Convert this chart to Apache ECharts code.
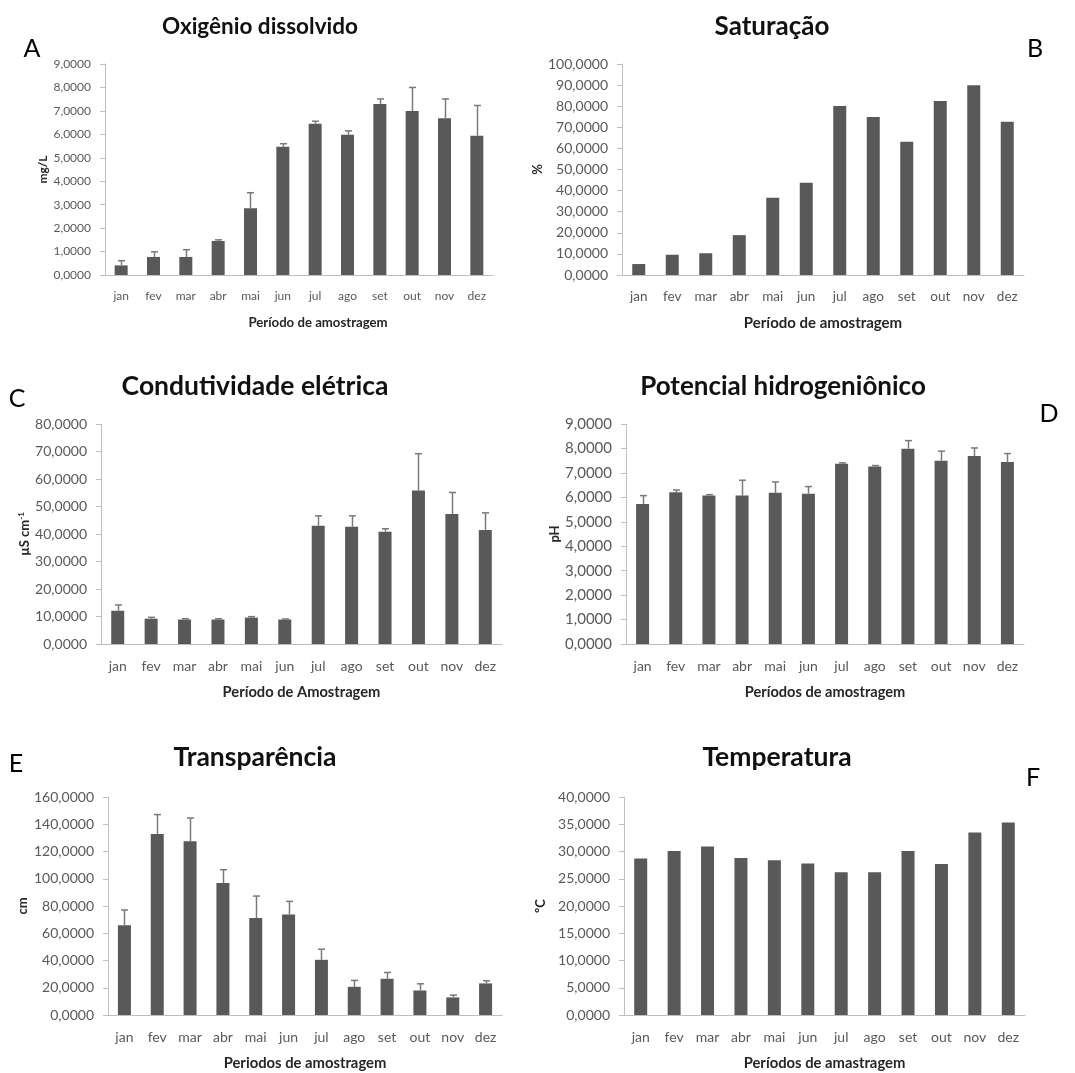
<!DOCTYPE html>
<html>
<head>
<meta charset="utf-8">
<title>Variáveis limnológicas</title>
<script src="https://cdn.jsdelivr.net/npm/echarts@6/dist/echarts.min.js"></script>
<style>
  html, body { margin: 0; padding: 0; background: #ffffff; }
  #chart { width: 1075px; height: 1073px; }
</style>
</head>
<body>
<div id="chart"></div>
<script>
// Months of sampling
const meses = ['jan', 'fev', 'mar', 'abr', 'mai', 'jun', 'jul', 'ago', 'set', 'out', 'nov', 'dez'];

// Oxigênio dissolvido (mg/L): mean and standard deviation
const oxigenio = [0.41, 0.77, 0.77, 1.45, 2.85, 5.47, 6.45, 5.98, 7.29, 6.99, 6.69, 5.94];
const oxigenioDP = [0.20, 0.22, 0.31, 0.05, 0.66, 0.13, 0.11, 0.17, 0.22, 1.01, 0.82, 1.29];

// Saturação (%)
const saturacao = [5.2, 9.6, 10.3, 18.9, 36.6, 43.7, 80.1, 74.9, 63.2, 82.5, 89.9, 72.6];

// Condutividade elétrica (µS cm-1)
const condutividade = [12.1, 9.2, 8.9, 8.9, 9.6, 8.9, 43.0, 42.6, 40.8, 55.8, 47.3, 41.5];
const condutividadeDP = [2.1, 0.5, 0.3, 0.3, 0.35, 0.2, 3.6, 4.0, 1.1, 13.4, 7.8, 6.2];

// Potencial hidrogeniônico (pH)
const ph = [5.73, 6.21, 6.07, 6.07, 6.19, 6.15, 7.37, 7.26, 7.99, 7.50, 7.69, 7.45];
const phDP = [0.34, 0.09, 0.04, 0.63, 0.44, 0.29, 0.04, 0.04, 0.33, 0.39, 0.33, 0.34];

// Transparência (cm)
const transparencia = [65.9, 132.9, 127.6, 96.8, 71.2, 73.7, 40.5, 20.7, 26.6, 18.0, 12.9, 23.2];
const transparenciaDP = [11.2, 14.2, 17.0, 9.8, 16.1, 9.7, 7.8, 4.7, 4.6, 4.9, 1.7, 1.9];

// Temperatura (ºC)
const temperatura = [28.7, 30.1, 30.9, 28.8, 28.4, 27.8, 26.2, 26.2, 30.1, 27.7, 33.5, 35.3];

// Axis ranges
const eixoMax = [9, 100, 80, 9, 160, 40];
const eixoPasso = [1, 10, 10, 1, 20, 5];

const FONT = 'Lato, "Open Sans", sans-serif';
const BAR = '#595959';
const AXIS = '#bfbfbf';
const LABEL = '#595959';
const ERR = '#7a7a7a';

// Panel descriptions
const paineis = [
  { titulo: 'Oxigênio dissolvido', letra: 'A', y: 'mg/L', x: 'Período de amostragem',
    valores: oxigenio, dp: oxigenioDP },
  { titulo: 'Saturação', letra: 'B', y: '%', x: 'Período de amostragem',
    valores: saturacao, dp: null },
  { titulo: 'Condutividade elétrica', letra: 'C', y: '{u|µS cm}{s|-1}', x: 'Período de Amostragem',
    valores: condutividade, dp: condutividadeDP },
  { titulo: 'Potencial hidrogeniônico', letra: 'D', y: 'pH', x: 'Períodos de amostragem',
    valores: ph, dp: phDP },
  { titulo: 'Transparência', letra: 'E', y: 'cm', x: 'Periodos de amostragem',
    valores: transparencia, dp: transparenciaDP },
  { titulo: 'Temperatura', letra: 'F', y: 'ºC', x: 'Períodos de amastragem',
    valores: temperatura, dp: null }
];

// Layout of each panel
const layout = [
  { grid: { left: 105, top: 64, width: 388, height: 211 }, title: [260, 27, 22.5], letter: [32, 49],
    tick: 12, cat: 12, xname: 13.2, yname: 12, yGap: 56, xShift: 38 },
  { grid: { left: 622, top: 64, width: 402, height: 211 }, title: [772, 27, 26], letter: [1035, 49],
    tick: 14, cat: 13.5, xname: 15, yname: 13, yGap: 62, xShift: 0 },
  { grid: { left: 101, top: 424, width: 401, height: 220 }, title: [255, 386, 26.5], letter: [17, 399],
    tick: 14, cat: 14, xname: 14.7, yname: 13, yGap: 68, xShift: 0 },
  { grid: { left: 626, top: 424, width: 398, height: 220 }, title: [783, 387, 26], letter: [1049, 414],
    tick: 15, cat: 14, xname: 14.6, yname: 13, yGap: 62, xShift: 0 },
  { grid: { left: 108, top: 797, width: 394, height: 218 }, title: [255, 757, 26.5], letter: [16, 764],
    tick: 14, cat: 14, xname: 14.8, yname: 13, yGap: 79, xShift: 0 },
  { grid: { left: 624, top: 797, width: 401, height: 218 }, title: [777, 757, 26.5], letter: [1033, 778],
    tick: 14, cat: 14, xname: 14.8, yname: 13, yGap: 77, xShift: 0 }
];

const fmt = v => v.toFixed(4).replace('.', ',');

const textos = [];
const grids = [];
const xAxes = [];
const yAxes = [];
const series = [];

paineis.forEach((p, i) => {
  const L = layout[i];
  // Panel title and panel letter
  textos.push({
    type: 'text', x: L.title[0], y: L.title[1], silent: true,
    style: { text: p.titulo, align: 'center', verticalAlign: 'middle',
      font: 'bold ' + L.title[2] + 'px ' + FONT, fill: '#111111' }
  });
  textos.push({
    type: 'text', x: L.letter[0], y: L.letter[1], silent: true,
    style: { text: p.letra, align: 'center', verticalAlign: 'middle',
      font: 'normal 25px ' + FONT, fill: '#000000' }
  });
  grids.push(Object.assign({ containLabel: false }, L.grid));
  xAxes.push({
    type: 'category', gridIndex: i, data: meses, boundaryGap: true,
    name: p.x, nameLocation: 'middle', nameGap: 41,
    nameTextStyle: { fontFamily: FONT, fontWeight: 'bold', fontSize: L.xname, color: '#262626',
      padding: [0, 0, 0, L.xShift] },
    axisLine: { lineStyle: { color: AXIS, width: 1 } },
    axisTick: { show: false },
    axisLabel: { margin: 15, fontFamily: FONT, fontSize: L.cat, color: LABEL, interval: 0 }
  });
  yAxes.push({
    type: 'value', gridIndex: i, min: 0, max: eixoMax[i], interval: eixoPasso[i],
    name: p.y, nameLocation: 'middle', nameGap: L.yGap,
    nameTextStyle: { fontFamily: FONT, fontWeight: 'bold', fontSize: L.yname, color: '#262626',
      rich: {
        u: { fontFamily: FONT, fontWeight: 'bold', fontSize: L.yname, color: '#262626' },
        s: { fontFamily: FONT, fontWeight: 'bold', fontSize: 8, color: '#262626', verticalAlign: 'top', padding: [0, 0, 6, 0] }
      } },
    axisLine: { show: true, lineStyle: { color: AXIS, width: 1 } },
    axisTick: { show: true, inside: false, length: 5, lineStyle: { color: AXIS } },
    splitLine: { show: false },
    axisLabel: { margin: 14, fontFamily: FONT, fontSize: L.tick, color: LABEL, formatter: fmt }
  });
  series.push({
    type: 'bar', xAxisIndex: i, yAxisIndex: i, data: p.valores, barWidth: 13,
    itemStyle: { color: BAR }, silent: true
  });
  if (p.dp) {
    // Upper error bar: stem from the bar top to mean + standard deviation, with a cap
    const dados = p.valores.map((v, k) => [k, v, v + p.dp[k]]);
    series.push({
      type: 'custom', xAxisIndex: i, yAxisIndex: i, data: dados, silent: true, z: 3,
      renderItem: (params, api) => {
        const base = api.coord([api.value(0), api.value(1)]);
        const topo = api.coord([api.value(0), api.value(2)]);
        const x = Math.round(base[0]) + 0.5;
        return {
          type: 'group',
          children: [
            { type: 'line', shape: { x1: x, y1: base[1], x2: x, y2: topo[1] },
              style: { stroke: ERR, lineWidth: 1.5 } },
            { type: 'line', shape: { x1: x - 3.5, y1: topo[1], x2: x + 3.5, y2: topo[1] },
              style: { stroke: ERR, lineWidth: 1.5 } }
          ]
        };
      }
    });
  }
});

const chart = echarts.init(document.getElementById('chart'), null, { renderer: 'canvas' });
chart.setOption({
  backgroundColor: '#ffffff',
  animation: false,
  graphic: { elements: textos },
  grid: grids,
  xAxis: xAxes,
  yAxis: yAxes,
  series: series
});
</script>
</body>
</html>
